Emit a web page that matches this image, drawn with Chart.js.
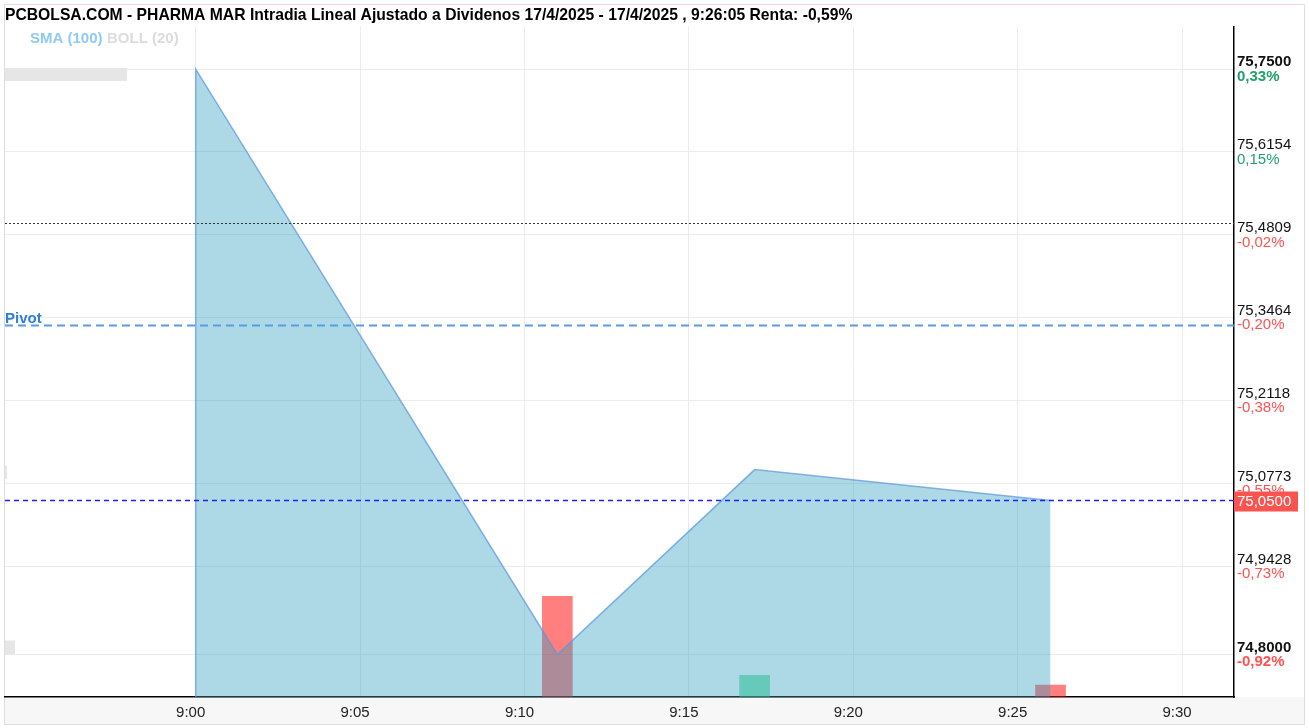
<!DOCTYPE html>
<html>
<head>
<meta charset="utf-8">
<script src="https://cdn.jsdelivr.net/npm/chart.js@4.4.1/dist/chart.umd.min.js"></script>
<style>
  html, body { margin: 0; padding: 0; background: #fff; }
</style>
</head>
<body>
<canvas id="grafico" width="1309" height="728"></canvas>
<script>
// --- datos (minutos desde las 9:00) ---
const horas = [0, 11, 17, 26];
const precios = [75.75, 74.80, 75.10, 75.05];
const volHoras = [11, 17, 26];
const volumen = [840, 180, 100];
const volSube = [false, true, false];

const xTicks = [0, 5, 10, 15, 20, 25, 30];
const xLabels = ['9:00', '9:05', '9:10', '9:15', '9:20', '9:25', '9:30'];
const yTicks = [74.80, 74.9428, 75.0773, 75.2118, 75.3464, 75.4809, 75.6154, 75.75];
const yLabels = ['74,8000', '74,9428', '75,0773', '75,2118', '75,3464', '75,4809', '75,6154', '75,7500'];
const pctLabels = ['-0,92%', '-0,73%', '-0,55%', '-0,38%', '-0,20%', '-0,02%', '0,15%', '0,33%'];

const cierreAnterior = 75.50;
const pivot = 75.335;
const ultimo = 75.05;
const ultimoLabel = '75,0500';
const titulo = 'PCBOLSA.COM - PHARMA MAR Intradia Lineal Ajustado a Dividenos 17/4/2025 - 17/4/2025 , 9:26:05 Renta: -0,59%';

const yMin = 74.731, yMax = 75.819;
const fuente = '"Liberation Sans", Arial, sans-serif';

// area: se abre con un punto en la base para dibujar el borde izquierdo
const puntosLinea = [{ x: horas[0], y: yMin }].concat(horas.map((h, i) => ({ x: h, y: precios[i] })));
const puntosVol = volHoras.map((h, i) => ({ x: h, y: volumen[i] }));

const esExtremo = i => i === 0 || i === yTicks.length - 1;

const decorado = {
    id: 'decorado',
    beforeDraw(chart) {
        const c = chart.ctx;
        const a = chart.chartArea;
        c.save();
        c.fillStyle = '#fff';
        c.fillRect(0, 0, chart.width, chart.height);
        // franja del eje x
        c.fillStyle = '#f7f7f7';
        c.fillRect(5, a.bottom, 1299, 27);
        // marco
        c.strokeStyle = '#dddddd';
        c.lineWidth = 1;
        c.strokeRect(4.5, 4.5, 1300, 720);
        c.strokeStyle = '#f0d6d6';
        c.beginPath(); c.moveTo(4.5, 4.5); c.lineTo(1304.5, 4.5); c.stroke();
        // titulo
        c.fillStyle = '#000';
        c.font = 'bold 15.7px ' + fuente;
        c.textBaseline = 'middle';
        c.fillText(titulo, 5, 15.5);
        // leyenda
        c.font = 'bold 15px ' + fuente;
        c.fillStyle = '#8fcaf3';
        c.fillText('SMA (100)', 30, 39);
        c.fillStyle = '#dcdcdc';
        c.fillText('BOLL (20)', 107, 39);
        c.restore();
    },
    afterDatasetsDraw(chart) {
        const c = chart.ctx;
        const a = chart.chartArea;
        const y = chart.scales.y;
        c.save();
        // cierre anterior
        let py = Math.round(y.getPixelForValue(cierreAnterior)) + 0.5;
        c.strokeStyle = '#333';
        c.lineWidth = 1;
        c.setLineDash([2, 2]);
        c.beginPath(); c.moveTo(a.left, py); c.lineTo(a.right, py); c.stroke();
        // pivot
        py = Math.round(y.getPixelForValue(pivot)) + 0.5;
        c.strokeStyle = '#5a9be6';
        c.lineWidth = 1.8;
        c.setLineDash([8, 5]);
        c.beginPath(); c.moveTo(a.left, py); c.lineTo(a.right, py); c.stroke();
        c.setLineDash([]);
        c.fillStyle = '#2f7fdc';
        c.font = 'bold 15px ' + fuente;
        c.textBaseline = 'alphabetic';
        c.fillText('Pivot', 5, py - 3);
        // porcentajes del eje derecho
        c.textBaseline = 'middle';
        yTicks.forEach((v, i) => {
            c.font = (esExtremo(i) ? 'bold ' : '') + '15px ' + fuente;
            c.fillStyle = pctLabels[i].startsWith('-') ? '#ff5252' : '#22a06b';
            c.fillText(pctLabels[i], a.right + 3, y.getPixelForValue(v) + 7.5);
        });
        // ultimo precio
        py = Math.round(y.getPixelForValue(ultimo)) + 0.5;
        c.strokeStyle = '#2020ff';
        c.lineWidth = 1.5;
        c.setLineDash([5, 4]);
        c.beginPath(); c.moveTo(a.left, py); c.lineTo(a.right, py); c.stroke();
        c.setLineDash([]);
        c.fillStyle = '#fa5450';
        c.fillRect(a.right, py - 9, 64, 20);
        c.fillStyle = '#fff';
        c.font = '15px ' + fuente;
        c.textBaseline = 'middle';
        c.fillText(ultimoLabel, a.right + 3, py + 1);
        // etiquetas ocultas (grises)
        c.fillStyle = '#e6e6e6';
        const yMaxPx = y.getPixelForValue(Math.max(...precios));
        const yMinPx = y.getPixelForValue(Math.min(...precios));
        const yMedPx = y.getPixelForValue(precios[2]);
        c.fillRect(a.left, yMaxPx - 1, 122, 13);
        c.fillRect(a.left, yMedPx - 4, 2, 13);
        c.fillRect(a.left, yMinPx - 14, 10, 14);
        c.restore();
    }
};

const ctx = document.getElementById('grafico').getContext('2d');
const chart = new Chart(ctx, {
    type: 'line',
    data: {
        datasets: [{
            type: 'line',
            label: 'Precio',
            data: puntosLinea,
            borderColor: 'rgba(90,150,220,0.7)',
            borderWidth: 1.5,
            backgroundColor: 'rgba(50,157,192,0.4)',
            fill: 'start',
            pointRadius: 0,
            tension: 0,
            order: 0
        }, {
            type: 'bar',
            label: 'Volumen',
            data: puntosVol,
            yAxisID: 'yVol',
            backgroundColor: volSube.map(s => s ? 'rgba(19,205,105,0.5)' : 'rgba(255,0,0,0.5)'),
            borderWidth: 0,
            barThickness: 30,
            order: 1
        }]
    },
    options: {
        responsive: false,
        animation: false,
        devicePixelRatio: 1,
        layout: { padding: { left: 5, top: 26.5, right: 5, bottom: 3 } },
        plugins: {
            legend: { display: false },
            tooltip: { enabled: false },
            title: { display: false }
        },
        scales: {
            x: {
                type: 'linear',
                min: -5.8,
                max: 31.58,
                offset: false,
                grid: { offset: false, color: '#ececec', drawTicks: false },
                border: { color: '#000', width: 1.5 },
                ticks: {
                    padding: 7,
                    labelOffset: -5,
                    maxRotation: 0,
                    autoSkip: false,
                    color: '#222',
                    font: { family: fuente, size: 15 },
                    callback: (v, i) => xLabels[i]
                },
                afterBuildTicks: s => { s.ticks = xTicks.map(v => ({ value: v })); },
                afterFit: s => { s.height = 28; }
            },
            y: {
                type: 'linear',
                position: 'right',
                min: yMin,
                max: yMax,
                grid: { color: '#ececec', drawTicks: false },
                border: { color: '#000', width: 1.5 },
                ticks: {
                    padding: 3,
                    labelOffset: -7,
                    autoSkip: false,
                    color: '#111',
                    font: c => ({ family: fuente, size: 15, weight: esExtremo(c.index) ? 'bold' : 'normal' }),
                    callback: (v, i) => yLabels[i]
                },
                afterBuildTicks: s => { s.ticks = yTicks.map(v => ({ value: v })); },
                afterFit: s => { s.width = 70; }
            },
            yVol: {
                display: false,
                min: 0,
                max: 5600
            }
        }
    },
    plugins: [decorado]
});
</script>
</body>
</html>
